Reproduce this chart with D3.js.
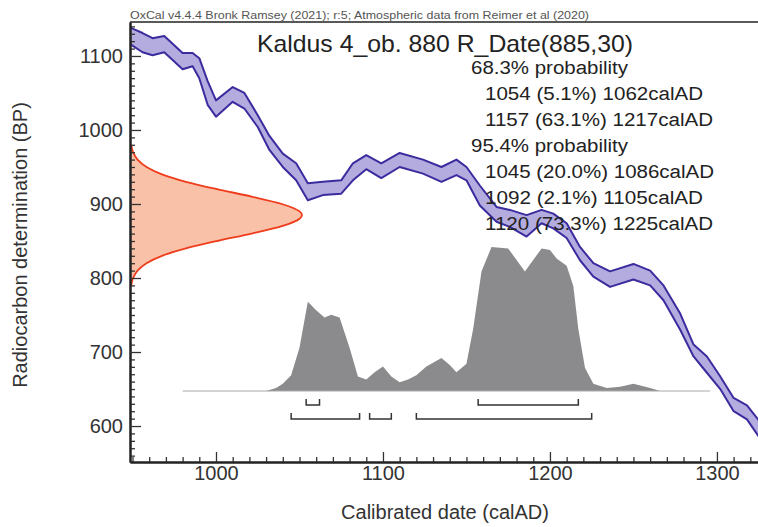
<!DOCTYPE html>
<html lang="en">
<head>
<meta charset="UTF-8">
<title>Kaldus 4 calibration</title>
<script src="https://cdn.jsdelivr.net/npm/d3@7"></script>
<style>
  body, html { margin: 0; background: #fff; }
  svg { display: block; font-family: "Liberation Sans", Arial, sans-serif; }
</style>
</head>
<body>
<svg width="758" height="527"></svg>
<script>
// calibration curve (IntCal20 band), BP edges
const calYears   = [948, 956, 962, 969, 980, 986, 990, 995, 1000, 1010, 1017, 1025, 1032, 1040, 1048, 1055, 1064, 1075, 1082, 1090, 1099, 1110, 1124, 1135, 1144, 1150, 1158, 1168, 1176, 1186, 1195, 1202, 1210, 1218, 1226, 1236, 1250, 1260, 1268, 1278, 1286, 1294, 1302, 1310, 1318, 1325];
const curveUpper = [1139, 1131, 1124, 1127, 1104, 1104, 1097, 1066, 1040, 1058, 1050, 1020, 992, 968, 955, 928, 930, 932, 955, 966, 955, 969, 960, 950, 960, 950, 925, 896, 892, 885, 892, 887, 874, 842, 820, 809, 819, 810, 790, 752, 710, 694, 667, 638, 628, 608];
const curveLower = [1117, 1105, 1101, 1105, 1082, 1086, 1070, 1034, 1018, 1038, 1029, 1004, 973, 950, 932, 905, 912, 914, 932, 947, 935, 950, 941, 930, 939, 932, 898, 876, 869, 856, 874, 867, 854, 824, 802, 788, 798, 790, 770, 730, 694, 672, 650, 620, 609, 586];

// calibrated probability (relative)
const postYears = [980, 1030, 1036, 1040, 1045, 1050, 1055, 1060, 1065, 1069, 1074, 1080, 1085, 1090, 1095, 1100, 1105, 1110, 1115, 1120, 1126, 1135, 1140, 1144, 1150, 1154, 1159, 1165, 1175, 1185, 1195, 1200, 1204, 1210, 1214, 1217, 1221, 1226, 1234, 1242, 1250, 1260, 1266, 1296];
const postProb  = [0, 0, 0.02, 0.05, 0.11, 0.30, 0.62, 0.56, 0.51, 0.53, 0.51, 0.30, 0.10, 0.08, 0.13, 0.17, 0.10, 0.06, 0.08, 0.11, 0.17, 0.23, 0.18, 0.13, 0.19, 0.43, 0.83, 1.0, 0.99, 0.83, 0.99, 0.98, 0.92, 0.87, 0.73, 0.43, 0.16, 0.05, 0.02, 0.03, 0.05, 0.02, 0, 0];

// radiocarbon measurement 885 +/- 30 BP
const bpGrid = [790, 800, 810, 820, 830, 840, 850, 860, 870, 880, 885, 890, 900, 910, 920, 930, 940, 950, 960, 970, 980];
const bpProb = [0.007, 0.018, 0.044, 0.096, 0.186, 0.325, 0.506, 0.707, 0.883, 0.986, 1.0, 0.986, 0.883, 0.707, 0.506, 0.325, 0.186, 0.096, 0.044, 0.018, 0.007];

const ranges68 = [[1054, 1062], [1157, 1217]];
const ranges95 = [[1045, 1086], [1092, 1105], [1120, 1225]];

const xTicks = [1000, 1100, 1200, 1300];
const yTicks = [600, 700, 800, 900, 1000, 1100];

const headerText = "OxCal v4.4.4 Bronk Ramsey (2021); r:5; Atmospheric data from Reimer et al (2020)";
const titleText = "Kaldus 4_ob. 880 R_Date(885,30)";
const probLines = ["68.3% probability", "1054 (5.1%) 1062calAD", "1157 (63.1%) 1217calAD",
                   "95.4% probability", "1045 (20.0%) 1086calAD", "1092 (2.1%) 1105calAD", "1120 (73.3%) 1225calAD"];

(function(){
  const svg = d3.select('svg');
  const L = 130, R = 758, T = 22, B = 462;
  const x = d3.scaleLinear().domain([948.5, 1324.6]).range([L, R]);
  const y = d3.scaleLinear().domain([551.4, 1145.9]).range([B, T]);
  const ph = d3.scaleLinear().domain([0, 1]).range([391, 247]);   // posterior height
  const pw = d3.scaleLinear().domain([0, 1]).range([L, 302]);     // measurement width

  svg.append('defs').append('clipPath').attr('id', 'plot')
    .append('rect').attr('x', L).attr('y', T).attr('width', R - L).attr('height', B - T);
  const g = svg.append('g').attr('clip-path', 'url(#plot)');

  // measurement distribution on the BP axis
  const meas = bpGrid.map((b, i) => ({b, p: bpProb[i]}));
  g.append('path').datum(meas)
    .attr('d', d3.area().y(d => y(d.b)).x0(L).x1(d => pw(d.p)).curve(d3.curveMonotoneY))
    .attr('fill', '#f9c1a8');
  g.append('path').datum(meas)
    .attr('d', d3.line().y(d => y(d.b)).x(d => pw(d.p)).curve(d3.curveMonotoneY))
    .attr('fill', 'none').attr('stroke', '#ef3d1c').attr('stroke-width', 1.8);

  // calibration curve band
  const cal = calYears.map((t, i) => ({t, hi: curveUpper[i], lo: curveLower[i]}));
  g.append('path').datum(cal)
    .attr('d', d3.area().x(d => x(d.t)).y0(d => y(d.lo)).y1(d => y(d.hi)))
    .attr('fill', '#b4acdf');
  ['hi', 'lo'].forEach(k => {
    g.append('path').datum(cal)
      .attr('d', d3.line().x(d => x(d.t)).y(d => y(d[k])))
      .attr('fill', 'none').attr('stroke', '#3a2c9e').attr('stroke-width', 2).attr('stroke-linejoin', 'round');
  });

  // calibrated distribution
  const post = postYears.map((t, i) => ({t, p: postProb[i]}));
  g.append('path').datum(post)
    .attr('d', d3.area().x(d => x(d.t)).y0(ph(0)).y1(d => ph(d.p)))
    .attr('fill', '#8b8b8d');
  g.append('line').attr('x1', x(postYears[0])).attr('x2', x(postYears[postYears.length - 1]))
    .attr('y1', ph(0)).attr('y2', ph(0)).attr('stroke', '#a8a8a8').attr('stroke-width', 1);

  // range brackets
  const bracket = (rows, yy) => rows.forEach(([a, b]) => {
    svg.append('path')
      .attr('d', `M${x(a)},${yy - 6}V${yy}H${x(b)}V${yy - 6}`)
      .attr('fill', 'none').attr('stroke', '#333').attr('stroke-width', 1.5);
  });
  bracket(ranges68, 405);
  bracket(ranges95, 419);

  // axes
  const minorX = d3.range(950, 1330, 10).filter(v => !xTicks.includes(v));
  const minorY = d3.range(560, 1150, 10).filter(v => !yTicks.includes(v));

  const gx = svg.append('g').attr('transform', `translate(0,${B})`);
  gx.call(d3.axisBottom(x).tickValues(minorX).tickSize(-5).tickSizeOuter(0).tickFormat(''));
  gx.append('g').call(d3.axisBottom(x).tickValues(xTicks).tickSize(-10).tickSizeOuter(0).tickPadding(4).tickFormat(d3.format('d')));

  const gy = svg.append('g').attr('transform', `translate(${L},0)`);
  gy.call(d3.axisLeft(y).tickValues(minorY).tickSize(-5).tickSizeOuter(0).tickFormat(''));
  gy.append('g').call(d3.axisLeft(y).tickValues(yTicks).tickSize(-11).tickSizeOuter(0).tickPadding(7).tickFormat(d3.format('d')));

  svg.selectAll('.domain').attr('stroke', '#222').attr('stroke-width', 2);
  svg.selectAll('.tick line').attr('stroke', '#333').attr('stroke-width', 1.3);
  svg.selectAll('.tick text').attr('font-size', 20).attr('fill', '#333')
    .attr('font-family', '"Liberation Sans", Arial, sans-serif');

  svg.append('line').attr('x1', L).attr('x2', R).attr('y1', T).attr('y2', T)
    .attr('stroke', '#222').attr('stroke-width', 1.5);

  // texts
  svg.append('text').attr('x', L).attr('y', 19).attr('font-size', 11).attr('fill', '#555')
    .attr('textLength', 459).attr('lengthAdjust', 'spacingAndGlyphs').text(headerText);
  svg.append('text').attr('x', 257).attr('y', 52).attr('font-size', 24).attr('fill', '#222')
    .attr('textLength', 376).attr('lengthAdjust', 'spacingAndGlyphs').text(titleText);

  const lineW = [157, 218, 228, 157, 229, 218, 228];
  probLines.forEach((s, i) => {
    svg.append('text').attr('x', s.includes('probability') ? 471 : 485).attr('y', 74 + i * 26)
      .attr('font-size', 18).attr('fill', '#222')
      .attr('textLength', lineW[i]).attr('lengthAdjust', 'spacingAndGlyphs').text(s);
  });

  svg.append('text').attr('x', 445).attr('y', 519).attr('text-anchor', 'middle')
    .attr('font-size', 20).attr('fill', '#333').text('Calibrated date (calAD)');
  svg.append('text').attr('transform', 'translate(27,245) rotate(-90)').attr('text-anchor', 'middle')
    .attr('font-size', 20).attr('fill', '#333').text('Radiocarbon determination (BP)');
})();
</script>
</body>
</html>
